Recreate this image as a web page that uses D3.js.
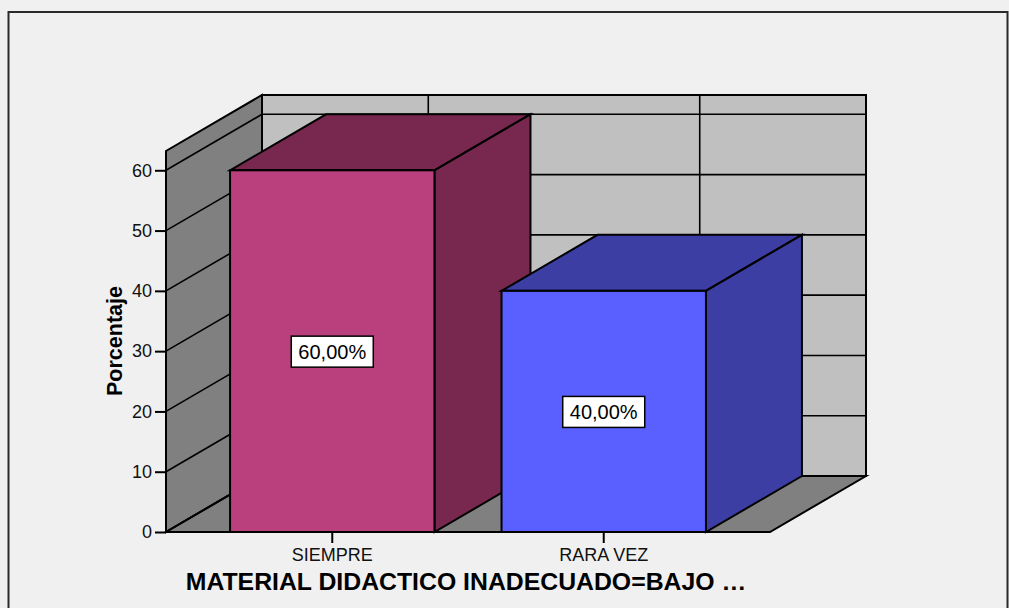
<!DOCTYPE html>
<html>
<head>
<meta charset="utf-8">
<script src="https://cdn.jsdelivr.net/npm/d3@7"></script>
<style>
  body { margin: 0; background: #f0f0f0; }
  text { font-family: Arial, "Liberation Sans", sans-serif; }
</style>
</head>
<body>
<script>
//data
var categories = ["SIEMPRE", "RARA VEZ"];
var values = [60, 40];
var valueLabels = ["60,00%", "40,00%"];
var yTicks = [0, 10, 20, 30, 40, 50, 60];
var frontColors = ["#ba3f7d", "#5a5fff"];
var sideColors = ["#78284f", "#3c3ea3"];
var xTitle = "MATERIAL DIDACTICO INADECUADO=BAJO \u2026";
var yTitle = "Porcentaje";

var width = 1009, height = 608;
var dx = 96, dy = -56; //depth of the 3d box

var svg = d3.select("body").append("svg")
  .attr("width", width)
  .attr("height", height);

//outer frame
svg.append("rect")
  .attr("x", 8.5).attr("y", 12)
  .attr("width", 999).attr("height", 620)
  .attr("fill", "#f0f0f0")
  .attr("stroke", "#2a2a2a")
  .attr("stroke-width", 2);

var y = d3.scaleLinear().domain([0, 63.2]).range([532, 151]);
var x = d3.scaleBand().domain(categories).range([166, 770])
  .paddingInner(0.247).paddingOuter(0.236);

var x0 = x.range()[0], x1 = x.range()[1];
var yb = y(0), yt = y.range()[1];

function pts(a){ return a.map(function(p){ return p.join(","); }).join(" "); }

//back wall
svg.append("polygon")
  .attr("points", pts([[x0+dx, yb+dy], [x1+dx, yb+dy], [x1+dx, yt+dy], [x0+dx, yt+dy]]))
  .attr("fill", "#c0c0c0").attr("stroke", "#000").attr("stroke-width", 2);
//left wall
svg.append("polygon")
  .attr("points", pts([[x0, yb], [x0+dx, yb+dy], [x0+dx, yt+dy], [x0, yt]]))
  .attr("fill", "#808080").attr("stroke", "#000").attr("stroke-width", 2);
//floor
svg.append("polygon")
  .attr("points", pts([[x0, yb], [x1, yb], [x1+dx, yb+dy], [x0+dx, yb+dy]]))
  .attr("fill", "#808080").attr("stroke", "#000").attr("stroke-width", 2);

//grid lines on walls
yTicks.forEach(function(t){
  svg.append("line")
    .attr("x1", x0+dx).attr("x2", x1+dx)
    .attr("y1", y(t)+dy).attr("y2", y(t)+dy)
    .attr("stroke", "#000").attr("stroke-width", 1.6);
  svg.append("line")
    .attr("x1", x0).attr("x2", x0+dx)
    .attr("y1", y(t)).attr("y2", y(t)+dy)
    .attr("stroke", "#000").attr("stroke-width", 1.6);
});
categories.forEach(function(c){
  var cx = x(c) + x.bandwidth()/2 + dx;
  svg.append("line")
    .attr("x1", cx).attr("x2", cx)
    .attr("y1", yb+dy).attr("y2", yt+dy)
    .attr("stroke", "#000").attr("stroke-width", 1.6);
});

//bars
categories.forEach(function(c, i){
  var bx0 = x(c), bx1 = x(c) + x.bandwidth(), by = y(values[i]);
  var g = svg.append("g");
  g.append("polygon")
    .attr("points", pts([[bx0, by], [bx0+dx, by+dy], [bx1+dx, by+dy], [bx1, by]]))
    .attr("fill", sideColors[i]).attr("stroke", "#000").attr("stroke-width", 2);
  g.append("polygon")
    .attr("points", pts([[bx1, by], [bx1+dx, by+dy], [bx1+dx, yb+dy], [bx1, yb]]))
    .attr("fill", sideColors[i]).attr("stroke", "#000").attr("stroke-width", 2);
  g.append("rect")
    .attr("x", bx0).attr("y", by)
    .attr("width", x.bandwidth()).attr("height", yb - by)
    .attr("fill", frontColors[i]).attr("stroke", "#000").attr("stroke-width", 2);

  //value label in a box
  var lx = bx0 + x.bandwidth()/2, ly = (by + yb)/2;
  g.append("rect")
    .attr("x", lx - 41).attr("y", ly - 15)
    .attr("width", 82).attr("height", 31)
    .attr("fill", "#fff").attr("stroke", "#000").attr("stroke-width", 1.5);
  g.append("text")
    .attr("x", lx).attr("y", ly + 7.5)
    .attr("text-anchor", "middle")
    .attr("font-size", 20)
    .attr("fill", "#000")
    .text(valueLabels[i]);
});

//front axis line
svg.append("line")
  .attr("x1", x0).attr("x2", x1).attr("y1", yb).attr("y2", yb)
  .attr("stroke", "#000").attr("stroke-width", 2);

//y axis
var yAxis = svg.append("g")
  .attr("transform", "translate(" + x0 + ",0)")
  .call(d3.axisLeft(y).tickValues(yTicks).tickSize(11).tickPadding(3));
yAxis.select(".domain").remove();
yAxis.selectAll(".tick line").attr("stroke", "#000").attr("stroke-width", 2);
yAxis.selectAll(".tick text")
  .attr("font-size", 18).attr("font-family", "Arial, 'Liberation Sans', sans-serif")
  .attr("fill", "#111");

//x axis ticks and labels
var xAxis = svg.append("g")
  .attr("transform", "translate(0," + yb + ")")
  .call(d3.axisBottom(x).tickSize(11).tickPadding(5));
xAxis.select(".domain").remove();
xAxis.selectAll(".tick line").attr("stroke", "#000").attr("stroke-width", 2);
xAxis.selectAll(".tick text")
  .attr("font-size", 18).attr("font-family", "Arial, 'Liberation Sans', sans-serif")
  .attr("fill", "#111");

//axis titles
svg.append("text")
  .attr("x", 466).attr("y", 590)
  .attr("text-anchor", "middle")
  .attr("font-size", 24.8).attr("font-weight", "bold")
  .attr("fill", "#000")
  .text(xTitle);

svg.append("text")
  .attr("transform", "translate(122,341) rotate(-90)")
  .attr("text-anchor", "middle")
  .attr("font-size", 21.5).attr("font-weight", "bold")
  .attr("fill", "#000")
  .text(yTitle);
</script>
</body>
</html>
